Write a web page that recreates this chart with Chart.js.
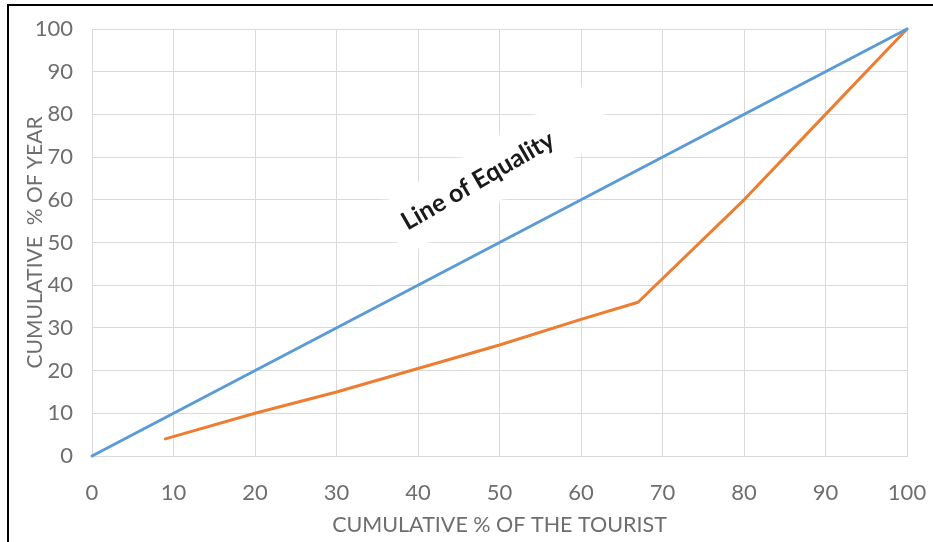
<!DOCTYPE html>
<html>
<head>
<meta charset="utf-8">
<script src="https://cdn.jsdelivr.net/npm/chart.js@4.4.0/dist/chart.umd.min.js"></script>
<style>
  html, body { margin: 0; padding: 0; background: #fff; }
  #wrap { position: relative; width: 933px; height: 542px; }
  #frame { position: absolute; left: 7px; top: 4px; right: 0; bottom: 0; border-top: 2px solid #000; border-left: 2px solid #000; pointer-events: none; }
</style>
</head>
<body>
<div id="wrap">
  <canvas id="chart" width="933" height="542"></canvas>
  <div id="frame"></div>
</div>
<script>
// Values
let tickMin = 0;
let tickMax = 100;
let tickStep = 10;
let equalityX = [0, 100];
let equalityY = [0, 100];
let touristX = [9, 20, 30, 40, 50, 60, 67, 80, 90, 100];
let yearY = [4, 10, 15, 20.5, 26, 32, 36, 60, 80, 100];
let xTitle = "CUMULATIVE % OF THE TOURIST";
let yTitle = "CUMULATIVE  % OF YEAR";
let noteText = "Line of Equality";
let noteAt = [46.5, 63.5]; // where the note sits, in axis units

function toPoints(xs, ys) {
    return xs.map((x, i) => ({x: x, y: ys[i]}));
}

// Rotated note with a white box behind it, drawn under the lines
const notePlugin = {
    id: 'note',
    beforeDatasetsDraw(chart) {
        const ctx = chart.ctx;
        const px = chart.scales.x.getPixelForValue(noteAt[0]);
        const py = chart.scales.y.getPixelForValue(noteAt[1]);
        ctx.save();
        ctx.translate(px, py);
        ctx.rotate(-30 * Math.PI / 180);
        ctx.fillStyle = '#fff';
        ctx.shadowColor = '#fff';
        ctx.shadowBlur = 6;
        ctx.fillRect(-92, -28, 242, 56);
        ctx.shadowBlur = 0;
        ctx.fillStyle = '#1a1a1a';
        ctx.font = 'bold 25px Lato';
        ctx.textAlign = 'left';
        ctx.textBaseline = 'middle';
        ctx.fillText(noteText, -78, 0);
        ctx.restore();
    }
};

Chart.defaults.font.family = 'Lato';

let chart = new Chart(document.getElementById('chart'), {
    type: 'line',
    data: {
        datasets: [{
            data: toPoints(equalityX, equalityY),
            borderColor: '#5b9bd5',
            borderWidth: 3,
            pointRadius: 0,
            borderCapStyle: 'round',
            clip: 4
        }, {
            data: toPoints(touristX, yearY),
            borderColor: '#ed7d31',
            borderWidth: 3,
            pointRadius: 0,
            borderCapStyle: 'round',
            borderJoinStyle: 'round',
            clip: 4
        }]
    },
    options: {
        responsive: false,
        animation: false,
        devicePixelRatio: 1,
        layout: {padding: {top: 29, right: 26, left: 0, bottom: 0}},
        plugins: {legend: {display: false}, tooltip: {enabled: false}},
        scales: {
            x: {
                type: 'linear',
                min: tickMin, max: tickMax,
                ticks: {stepSize: tickStep, color: '#6e6e6e', font: {size: 22}, padding: 24, maxRotation: 0},
                grid: {color: '#d9d9d9', drawTicks: false},
                border: {color: '#d9d9d9'},
                title: {display: true, text: xTitle, color: '#6e6e6e', font: {size: 21.5}, padding: {top: 0, bottom: 4}},
                afterFit(scale) {
                    scale.height = 542 - 456;
                    scale.paddingLeft = 0;
                    scale.paddingRight = 0;
                }
            },
            y: {
                type: 'linear',
                min: tickMin, max: tickMax,
                ticks: {stepSize: tickStep, color: '#6e6e6e', font: {size: 22}, padding: 19},
                grid: {color: '#d9d9d9', drawTicks: false},
                border: {color: '#d9d9d9'},
                title: {display: true, text: yTitle, color: '#6e6e6e', font: {size: 21}, padding: {top: 23, bottom: 0}},
                afterFit(scale) {
                    scale.width = 92;
                    scale.paddingTop = 0;
                    scale.paddingBottom = 0;
                }
            }
        }
    },
    plugins: [notePlugin]
});
</script>
</body>
</html>
